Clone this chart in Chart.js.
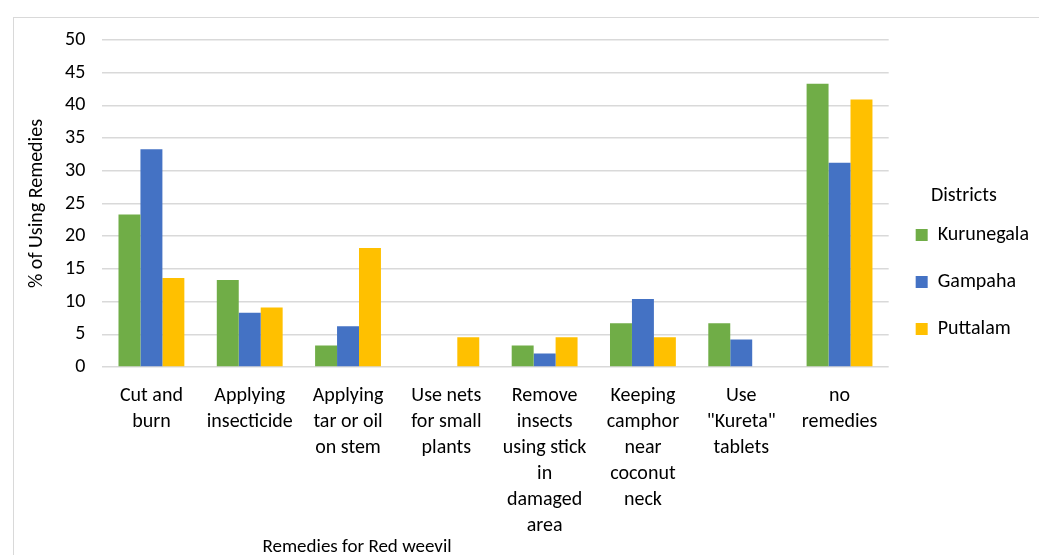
<!DOCTYPE html>
<html>
<head>
<meta charset="utf-8">
<script src="https://cdn.jsdelivr.net/npm/chart.js@4.4.1/dist/chart.umd.min.js"></script>
<style>
    body { margin: 0; background: #fff; overflow: hidden; }
    #frame { position: absolute; left: 13px; top: 17px; width: 1100px; height: 600px; border: 1px solid #d9d9d9; }
    #wrap { position: absolute; left: 0; top: 0; width: 1039px; height: 555px; }
</style>
</head>
<body>
<div id="frame"></div>
<div id="wrap"><canvas id="chart"></canvas></div>
<script>
// Categories (multi-line labels as in the original)
const remedies = [
    ['Cut and', 'burn'],
    ['Applying', 'insecticide'],
    ['Applying', 'tar or oil', 'on stem'],
    ['Use nets', 'for small', 'plants'],
    ['Remove', 'insects', 'using stick', 'in', 'damaged', 'area'],
    ['Keeping', 'camphor', 'near', 'coconut', 'neck'],
    ['Use', '"Kureta"', 'tablets'],
    ['no', 'remedies']
];

// % of using remedies per district
const kurunegala = [23.3, 13.3, 3.3, 0, 3.3, 6.7, 6.7, 43.3];
const gampaha    = [33.3, 8.3, 6.25, 0, 2.08, 10.4, 4.2, 31.25];
const puttalam   = [13.6, 9.1, 18.2, 4.55, 4.55, 4.55, 0, 40.9];

const yTicks = [0, 5, 10, 15, 20, 25, 30, 35, 40, 45, 50];

const FONT = "Carlito, Lato, 'Open Sans', sans-serif";
const TEXT = '#000';

// x axis title sits left of centre in the original, so draw it ourselves
const xTitlePlugin = {
    id: 'xTitle',
    afterDraw(chart) {
        const { ctx, chartArea } = chart;
        ctx.save();
        ctx.font = '19px ' + FONT;
        ctx.fillStyle = TEXT;
        ctx.textAlign = 'center';
        ctx.textBaseline = 'middle';
        ctx.fillText('Remedies for Red weevil', chartArea.left + (chartArea.right - chartArea.left) * 0.324, 547);
        ctx.restore();
    }
};

const ctx = document.getElementById('chart').getContext('2d');
new Chart(ctx, {
    type: 'bar',
    data: {
        labels: remedies,
        datasets: [
            { label: 'Kurunegala', data: kurunegala, backgroundColor: '#70AD47' },
            { label: 'Gampaha', data: gampaha, backgroundColor: '#4472C4' },
            { label: 'Puttalam', data: puttalam, backgroundColor: '#FFC000' }
        ]
    },
    options: {
        responsive: true,
        maintainAspectRatio: false,
        animation: false,
        layout: {
            padding: { left: 25, top: 40, right: 0, bottom: 8 }
        },
        datasets: {
            bar: { categoryPercentage: 0.67, barPercentage: 1.0 }
        },
        plugins: {
            legend: {
                position: 'right',
                align: 'center',
                title: {
                    display: true,
                    text: 'Districts',
                    color: TEXT,
                    font: { family: FONT, size: 20 },
                    padding: { top: -35, bottom: -12 }
                },
                labels: {
                    boxWidth: 12,
                    boxHeight: 12,
                    padding: 27,
                    color: TEXT,
                    font: { family: FONT, size: 20 }
                }
            },
            tooltip: { enabled: false }
        },
        scales: {
            x: {
                grid: { display: false },
                border: { display: false },
                ticks: {
                    color: TEXT,
                    padding: 8,
                    maxRotation: 0,
                    autoSkip: false,
                    font: { family: FONT, size: 20, lineHeight: 1.3 }
                }
            },
            y: {
                min: 0,
                max: 50,
                afterBuildTicks: axis => { axis.ticks = yTicks.map(v => ({ value: v })); },
                grid: { color: '#d9d9d9', lineWidth: 1.5, drawTicks: false },
                border: { display: false },
                ticks: {
                    color: TEXT,
                    padding: 17,
                    font: { family: FONT, size: 20 }
                },
                title: {
                    display: true,
                    text: '% of Using Remedies',
                    color: TEXT,
                    font: { family: FONT, size: 20 },
                    padding: { top: 0, bottom: -1 }
                }
            }
        }
    },
    plugins: [xTitlePlugin]
});
</script>
</body>
</html>
